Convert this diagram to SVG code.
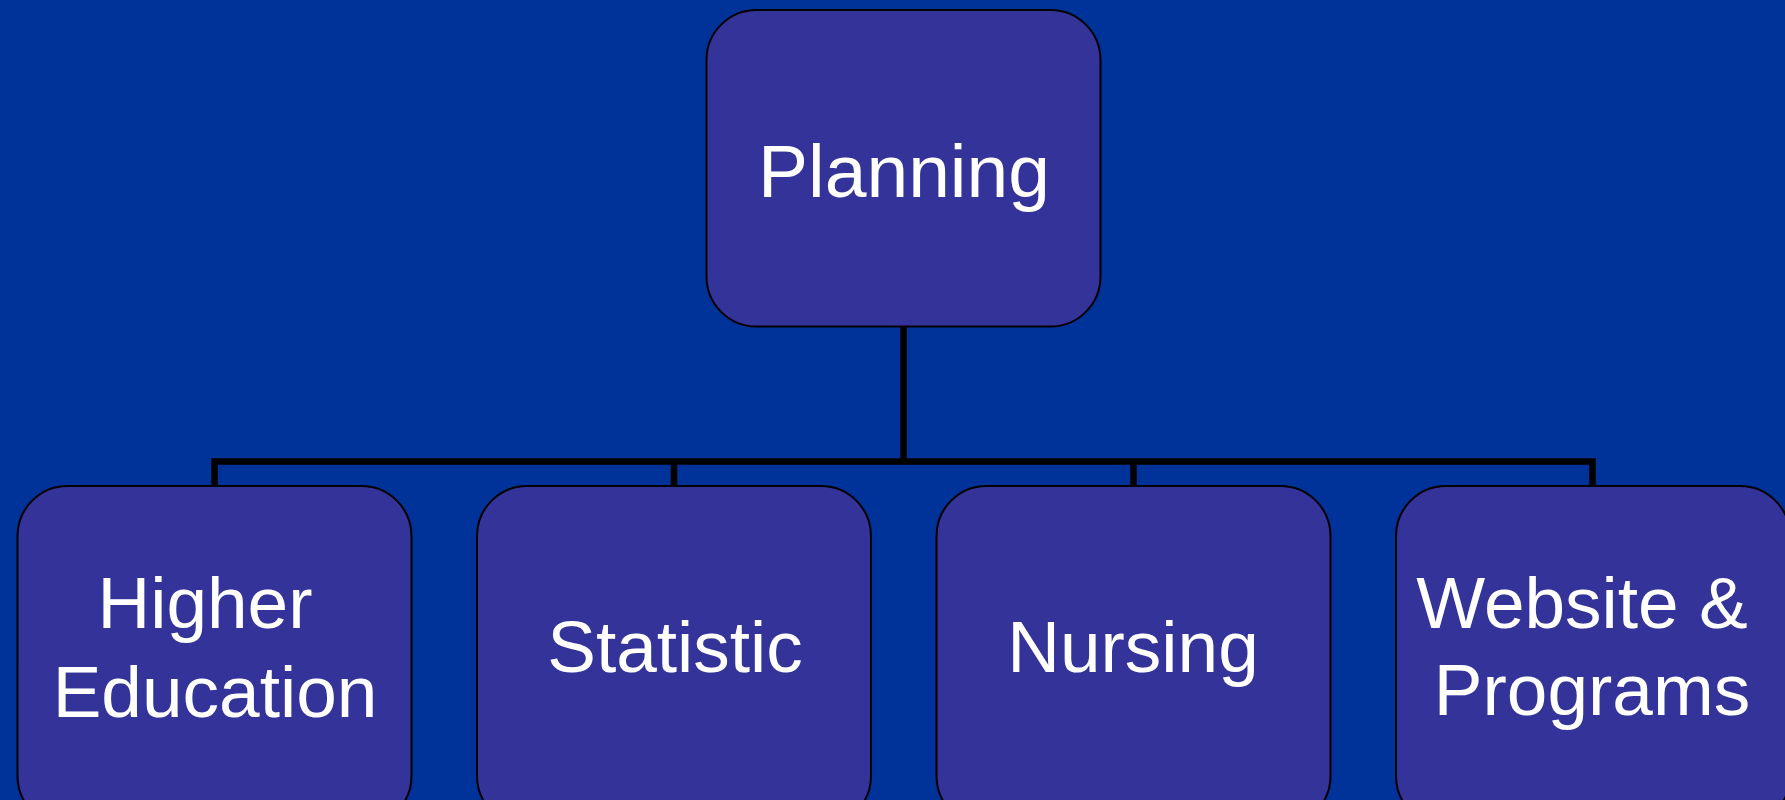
<svg xmlns="http://www.w3.org/2000/svg" width="1785" height="800" viewBox="0 0 1785 800">
<style>
.box{fill:#333399;stroke:#000;stroke-width:2}
.lbl{fill:#fff;font-family:"Liberation Sans",Arial,sans-serif;font-size:73px;text-anchor:middle}
.con{fill:none;stroke:#000;stroke-width:6.5}
</style>
<rect width="1785" height="800" fill="#003399"/>
<g id="connectors">
<path class="con" d="M903.5 327 V461.5 M214.5 486 V461.5 H1592.5 V486 M674 461.5 V486 M1133.5 461.5 V486"/>
</g>
<g id="planning">
<rect class="box" x="706.5" y="10" width="394" height="316.5" rx="50" ry="50"/>
<text class="lbl" x="904" y="197" style="font-size:75px">Planning</text>
</g>
<g id="higher-education">
<rect class="box" x="17.5" y="486" width="394" height="340" rx="50" ry="50"/>
<text class="lbl" x="205" y="628">Higher</text>
<text class="lbl" x="215" y="717">Education</text>
</g>
<g id="statistic">
<rect class="box" x="477" y="486" width="394" height="340" rx="50" ry="50"/>
<text class="lbl" x="675" y="672">Statistic</text>
</g>
<g id="nursing">
<rect class="box" x="936.5" y="486" width="394" height="340" rx="50" ry="50"/>
<text class="lbl" x="1133" y="672">Nursing</text>
</g>
<g id="website-programs">
<rect class="box" x="1396" y="486" width="394" height="340" rx="50" ry="50"/>
<text class="lbl" x="1582" y="628">Website &amp;</text>
<text class="lbl" x="1592" y="715">Programs</text>
</g>
</svg>
